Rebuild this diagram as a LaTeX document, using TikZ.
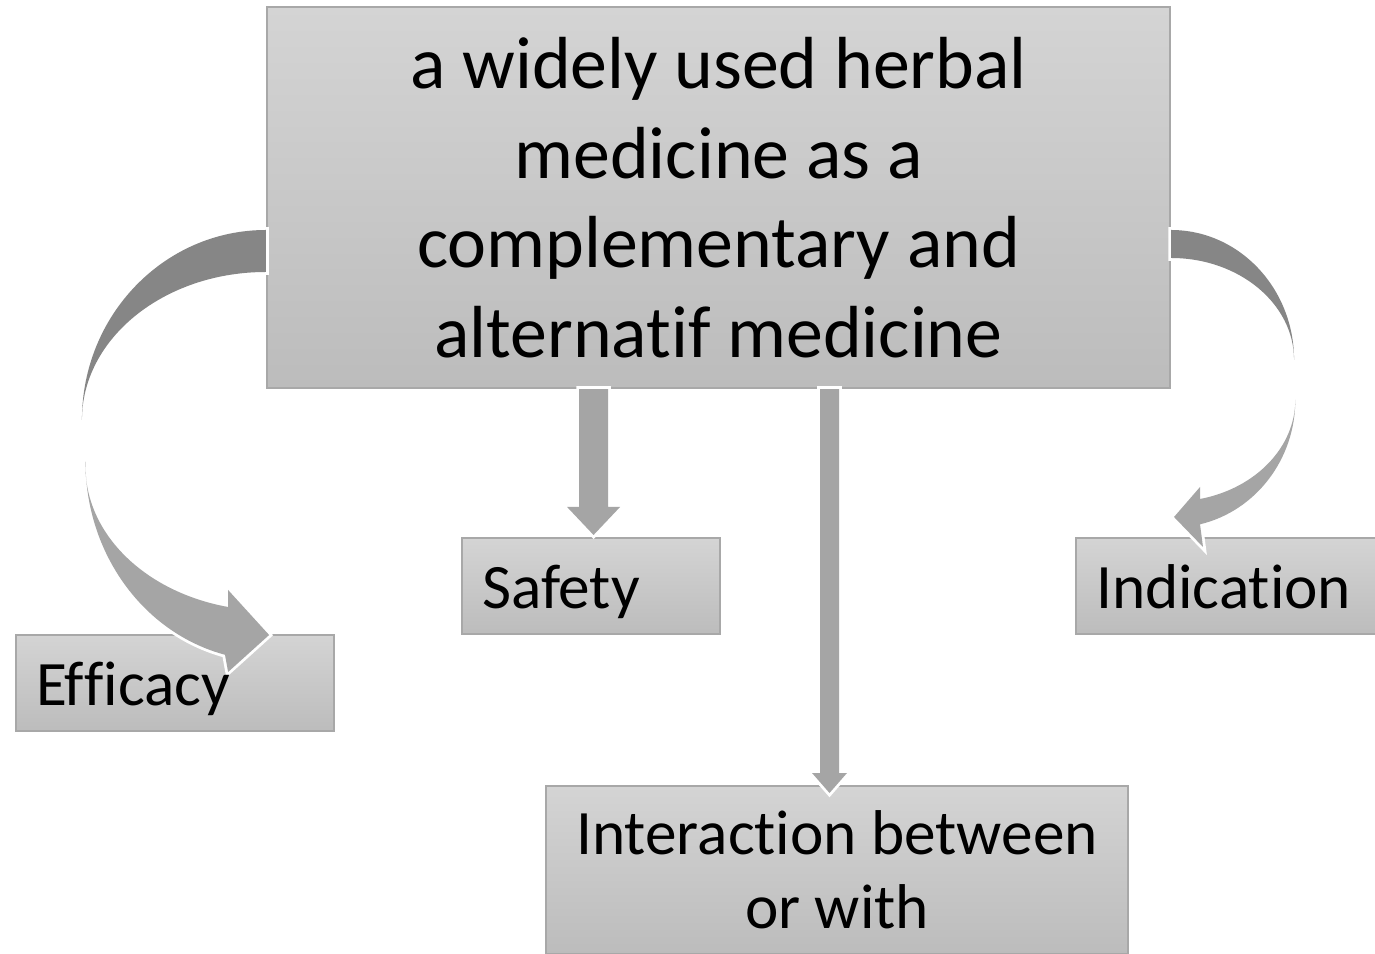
\documentclass[tikz,border=0pt]{standalone}
\usepackage{fontspec}
\setmainfont{Carlito}[Ligatures=NoCommon]
\usepackage{xcolor}
\usetikzlibrary{calc,positioning}
\definecolor{boxtop}{HTML}{D4D4D4}
\definecolor{boxbot}{HTML}{BCBCBC}
\definecolor{boxline}{HTML}{A8A8A8}
\definecolor{arrdark}{HTML}{868686}
\definecolor{arrlight}{HTML}{A5A5A5}
\newcommand{\nl}{\kern0pt} % keeps letters apart, no ligature
\tikzset{%
	block/.style     = {draw=boxline, line width=0.6pt, rectangle, top color=boxtop, bottom color=boxbot, inner xsep=0.2cm, inner ysep=0pt},
	lbl/.style       = {font=\fontsize{18}{21}\selectfont, minimum height=0.96cm, text height=0.44cm, text depth=0cm, align=left, inner xsep=0.2cm, inner ysep=0pt}, % small box text
	leaf/.style      = {block, lbl},
	darkarrow/.style = {fill=arrdark, preaction={draw=white, line width=1.6pt}},
	lightarrow/.style= {fill=arrlight, preaction={draw=white, line width=1.6pt}},
}

\begin{document}
\begin{tikzpicture}
	\useasboundingbox (0,0) rectangle (13.75,-9.54);
	\clip (0,0) rectangle (13.75,-9.54);
	\node[block, minimum width=9.03cm, minimum height=3.81cm, align=center, font=\fontsize{21}{25.5}\selectfont] (herb) at (7.185,-1.975) {a widely used herbal\\ medicine as a\\ complementary and\\ alternat\nl if medicine};
	\node[leaf, anchor=north west, text width=2.18cm] (safe) at (4.61,-5.37) {Safety};
	\node[leaf, anchor=north west, text width=2.60cm] (ind) at (10.75,-5.37) {Indicat\nl ion};
	\node[leaf, anchor=north west, text width=2.78cm] (eff) at (0.15,-6.34) {};
	\node[block, anchor=north, minimum width=5.82cm, minimum height=1.68cm, align=center, font=\fontsize{18}{21}\selectfont] (inter) at (8.37,-7.85) {Interact\nl ion between\\ or with};

	\coordinate (efftip) at ($(eff.north east)+(-0.66,-0.01)$);
	\coordinate (indtip) at ($(ind.north west)+(0.99,0.20)$);
	\coordinate (safetip) at ($(safe.north)+(0.025,0.02)$);
	\coordinate (intertip) at ($(inter.north)+(-0.075,-0.08)$);

	% curved arrow to the left
	\path[darkarrow] ($(herb.west)+(0,-0.325)$) arc[start angle=90, end angle=180, x radius=1.84cm, y radius=1.90cm] arc[start angle=180, end angle=90, x radius=1.84cm, y radius=1.48cm] -- cycle;
	\path[lightarrow] (efftip) -- ++(-0.41,0.45) -- ++(0,-0.17) arc[start angle=257, end angle=180, x radius=1.84cm, y radius=1.44cm] -- ++(0,0.05) arc[start angle=180, end angle=256, x radius=1.84cm, y radius=1.99cm] -- ($(efftip)+(-0.41,-0.37)$) -- cycle;

	% curved arrow to the right
	\path[darkarrow] ($(herb.east)+(0,-0.325)$) arc[start angle=90, end angle=0, x radius=1.23cm, y radius=1.30cm] arc[start angle=0, end angle=90, x radius=1.23cm, y radius=1.02cm] -- cycle;
	\path[lightarrow] (indtip) -- ++(0.26,0.30) -- ++(0,-0.12) arc[start angle=-77, end angle=0, x radius=1.23cm, y radius=1.02cm] arc[start angle=0, end angle=-77, x radius=1.23cm, y radius=1.28cm] -- ($(indtip)+(0.29,-0.30)$) -- cycle;

	% straight arrows
	\path[lightarrow] (safetip) -- ++(-0.265,0.28) -- ++(0.12,0) -- ($(safetip |- herb.south)+(-0.145,0)$) -- ($(safetip |- herb.south)+(0.145,0)$) -- ($(safetip)+(0.145,0.28)$) -- ++(0.12,0) -- cycle;
	\path[lightarrow] (intertip) -- ++(-0.175,0.20) -- ++(0.08,0) -- ($(intertip |- herb.south)+(-0.095,0)$) -- ($(intertip |- herb.south)+(0.095,0)$) -- ($(intertip)+(0.095,0.20)$) -- ++(0.08,0) -- cycle;

	% text of the left box sits over the arrow head
	\node[lbl, text width=2.78cm] (efftext) at (eff.center) {Ef\nl f\nl icacy};
\end{tikzpicture}
\end{document}
